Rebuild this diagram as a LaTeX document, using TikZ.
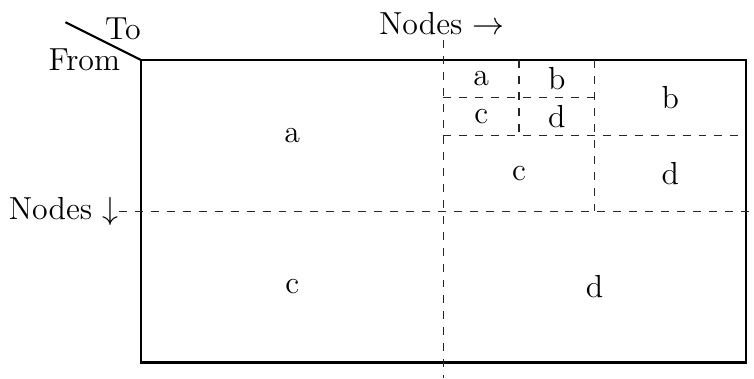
\documentclass[tikz,border=0pt]{standalone}
\usepackage{amsmath,amssymb}
\usepackage{tikz}
\usetikzlibrary{positioning}

\begin{document}
\begin{tikzpicture}[
    x=1cm, y=1cm,
    every node/.style={font=\large, inner sep=0pt},
    frame/.style={draw, thick},
    split/.style={draw, dashed, black!85},
    cell/.style={anchor=center},
]
    \useasboundingbox (-1.865, -4.206) rectangle (8.108, 0.794);

    % --- matrix outline (y runs downwards) ---
    \coordinate (tl) at (0, 0);
    \coordinate (br) at (8, -4);
    \draw[frame] (tl) rectangle (br);

    % corner header: From / To
    \coordinate (diag) at (-1, 0.5);
    \draw[frame] (diag) -- (tl);
    \node[cell] (to)   at (-0.24, 0.41) {To};
    \node[cell] (from) at (-0.75, 0.00) {From};

    % axis labels
    \node[cell] (colax) at (3.98, 0.48) {Nodes $\rightarrow$};
    \node[anchor=east] (rowax) at (-0.29, -2) {Nodes $\downarrow$};

    % --- first level split ---
    \draw[split] (4, 0.26) -- (4, -4.21);
    \draw[split] (rowax.east) -- (8.11, -2);

    % --- second level split (top right block) ---
    \draw[split] (6, 0) -- (6, -2);
    \draw[split] (4, -1) -- (8, -1);

    % --- third level split ---
    \draw[split] (5, 0) -- (5, -1);
    \draw[split] (4, -0.5) -- (6, -0.5);

    % --- block labels ---
    \node[cell] (a1) at (2, -1) {a};
    \node[cell] (c1) at (2, -3) {c};
    \node[cell] (d1) at (6, -3) {d};
    \node[cell] (b2) at (7, -0.5) {b};
    \node[cell] (c2) at (5, -1.5) {c};
    \node[cell] (d2) at (7, -1.5) {d};
    \node[cell] (a3) at (4.5, -0.25) {a};
    \node[cell] (b3) at (5.5, -0.25) {b};
    \node[cell] (c3) at (4.5, -0.75) {c};
    \node[cell] (d3) at (5.5, -0.75) {d};
\end{tikzpicture}
\end{document}
